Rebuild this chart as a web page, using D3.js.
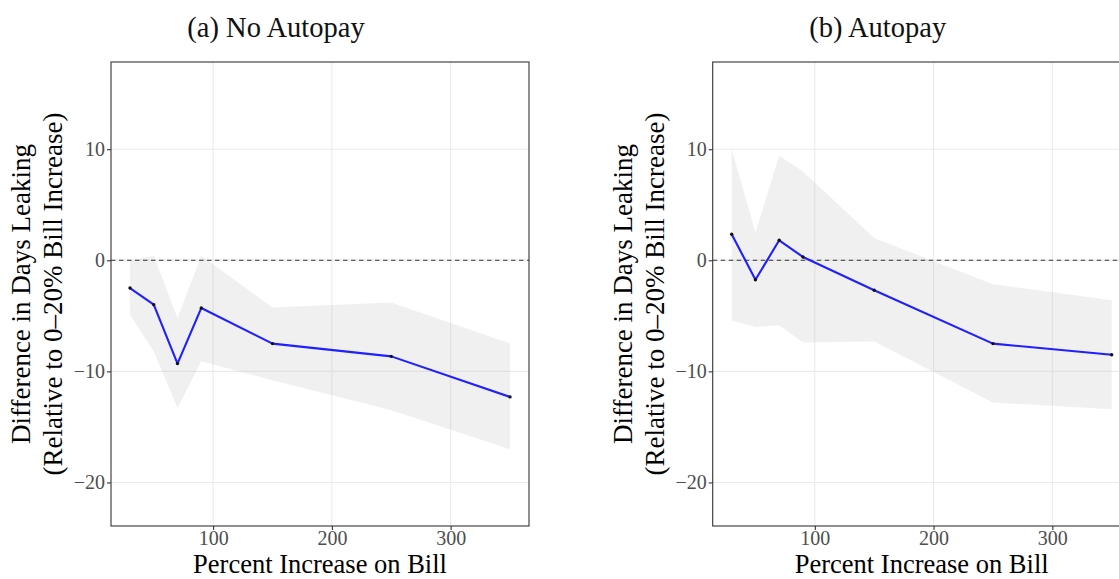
<!DOCTYPE html>
<html>
<head>
<meta charset="utf-8">
<script src="https://cdn.jsdelivr.net/npm/d3@7"></script>
<style>
  html, body { margin: 0; padding: 0; background: #ffffff; }
  svg { display: block; }
</style>
</head>
<body>
<svg id="chart" width="1119" height="579"></svg>
<script>
// Event-study style estimates: days leaking by bill-increase bin
const increase = [30, 50, 70, 90, 150, 250, 350];

const noAutopayEstimate = [-2.5, -4.0, -9.3, -4.3, -7.5, -8.65, -12.3];
const noAutopayLower    = [-4.9, -8.2, -13.3, -9.1, -10.8, -13.5, -17.0];
const noAutopayUpper    = [-0.05, 0.4, -5.2, 0.4, -4.25, -3.8, -7.5];

const autopayEstimate = [2.35, -1.75, 1.8, 0.3, -2.7, -7.5, -8.5];
const autopayLower    = [-5.4, -6.0, -5.85, -7.4, -7.3, -12.8, -13.4];
const autopayUpper    = [10.0, 2.5, 9.4, 8.0, 2.0, -2.15, -3.6];

const xTickValues = [100, 200, 300];
const yTickValues = [-20, -10, 0, 10];

const panelTitles = ["(a) No Autopay", "(b) Autopay"];
const xAxisTitle = "Percent Increase on Bill";
const yAxisTitle = ["Difference in Days Leaking", "(Relative to 0\u201320% Bill Increase)"];

const svg = d3.select("#chart");
const serif = "'Liberation Serif', 'Times New Roman', serif";

// Panel frame (left subfigure); the right one is shifted by panelShift
const frame = { left: 111, right: 529, top: 62, bottom: 526 };
const panelShift = 601.7;
const subfigCenter = 276;

const x = d3.scaleLinear().domain([14, 366]).range([frame.left, frame.right]);
const y = d3.scaleLinear().domain([-23.92, 17.85]).range([frame.bottom, frame.top]);

const fmt = v => (v < 0 ? "\u2212" + Math.abs(v) : String(v));

const panels = [
  { title: panelTitles[0], est: noAutopayEstimate, lo: noAutopayLower, hi: noAutopayUpper },
  { title: panelTitles[1], est: autopayEstimate, lo: autopayLower, hi: autopayUpper }
];

panels.forEach((p, i) => {
  const g = svg.append("g").attr("transform", `translate(${i * panelShift},0)`);
  const rows = increase.map((v, k) => ({ x: v, est: p.est[k], lo: p.lo[k], hi: p.hi[k] }));

  const clipId = "clip" + i;
  g.append("clipPath").attr("id", clipId)
    .append("rect")
    .attr("x", frame.left).attr("y", frame.top)
    .attr("width", frame.right - frame.left).attr("height", frame.bottom - frame.top);

  const plot = g.append("g").attr("clip-path", `url(#${clipId})`);

  // major grid
  plot.selectAll("line.gx").data(xTickValues).join("line")
    .attr("x1", d => x(d)).attr("x2", d => x(d))
    .attr("y1", frame.top).attr("y2", frame.bottom)
    .attr("stroke", "#ebebeb").attr("stroke-width", 1.1);
  plot.selectAll("line.gy").data(yTickValues).join("line")
    .attr("x1", frame.left).attr("x2", frame.right)
    .attr("y1", d => y(d)).attr("y2", d => y(d))
    .attr("stroke", "#ebebeb").attr("stroke-width", 1.1);

  // confidence band
  const band = d3.area().x(d => x(d.x)).y0(d => y(d.lo)).y1(d => y(d.hi));
  plot.append("path").datum(rows)
    .attr("d", band)
    .attr("fill", "#b3b3b3").attr("fill-opacity", 0.2);

  // zero reference
  plot.append("line")
    .attr("x1", frame.left).attr("x2", frame.right)
    .attr("y1", y(0)).attr("y2", y(0))
    .attr("stroke", "#333333").attr("stroke-width", 1.1)
    .attr("stroke-dasharray", "4.5,3.5");

  // estimates
  const line = d3.line().x(d => x(d.x)).y(d => y(d.est));
  plot.append("path").datum(rows)
    .attr("d", line)
    .attr("fill", "none").attr("stroke", "#1f1fff").attr("stroke-width", 2.1)
    .attr("stroke-linejoin", "round");
  plot.selectAll("circle").data(rows).join("circle")
    .attr("cx", d => x(d.x)).attr("cy", d => y(d.est)).attr("r", 1.7)
    .attr("fill", "#111111");

  // panel border
  g.append("rect")
    .attr("x", frame.left).attr("y", frame.top)
    .attr("width", frame.right - frame.left).attr("height", frame.bottom - frame.top)
    .attr("fill", "none").attr("stroke", "#333333").attr("stroke-width", 1.1);

  // axes
  const xAxis = d3.axisBottom(x).tickValues(xTickValues).tickSize(4).tickPadding(3)
    .tickFormat(fmt);
  const gx = g.append("g").attr("transform", `translate(0,${frame.bottom})`).call(xAxis);
  const yAxis = d3.axisLeft(y).tickValues(yTickValues).tickSize(4).tickPadding(2)
    .tickFormat(fmt);
  const gy = g.append("g").attr("transform", `translate(${frame.left},0)`).call(yAxis);

  [gx, gy].forEach(a => {
    a.select(".domain").remove();
    a.selectAll(".tick line").attr("stroke", "#333333").attr("stroke-width", 1.1);
    a.selectAll(".tick text")
      .attr("fill", "#4d4d4d")
      .style("font-family", serif).style("font-size", "20px");
  });
  gx.selectAll(".tick text").attr("dy", "0.6em");

  // titles
  g.append("text")
    .attr("x", subfigCenter).attr("y", 37)
    .attr("text-anchor", "middle")
    .style("font-family", serif).style("font-size", "28.5px").attr("fill", "#111")
    .text(p.title);

  g.append("text")
    .attr("x", (frame.left + frame.right) / 2).attr("y", 573.3)
    .attr("text-anchor", "middle")
    .style("font-family", serif).style("font-size", "26.5px").attr("fill", "#000")
    .text(xAxisTitle);

  const yt = g.append("text")
    .attr("transform", `translate(${frame.left - 81},${(frame.top + frame.bottom) / 2}) rotate(-90)`)
    .attr("text-anchor", "middle")
    .style("font-family", serif).style("font-size", "27px").attr("fill", "#000");
  yt.selectAll("tspan").data(yAxisTitle).join("tspan")
    .attr("x", 0).attr("dy", (d, k) => (k === 0 ? 0 : 32))
    .text(d => d);
});
</script>
</body>
</html>
